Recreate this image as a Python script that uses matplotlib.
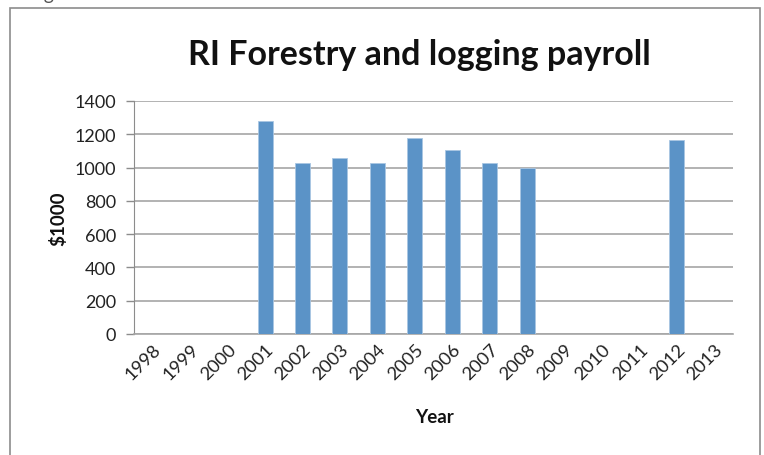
import matplotlib.pyplot as plt
from matplotlib.patches import Rectangle
import numpy as np

years = ['1998', '1999', '2000', '2001', '2002', '2003', '2004', '2005',
         '2006', '2007', '2008', '2009', '2010', '2011', '2012', '2013']
payroll = [0, 0, 0, 1280, 1025, 1060, 1025, 1175,
           1108, 1025, 998, 0, 0, 0, 1168, 0]
yticks = [0, 200, 400, 600, 800, 1000, 1200, 1400]

bar_color = '#5b93c7'
grid_color = '#a6a6a6'
font = ['Lato', 'DejaVu Sans']

fig = plt.figure(figsize=(7.64, 4.56), dpi=100)
W, H = 764, 456

# outer chart frame
fig.patches.append(Rectangle((10 / W, -0.05), 750 / W, 1 - 9 / H + 0.05,
                             transform=fig.transFigure, fill=False,
                             edgecolor='#8c8c8c', linewidth=1.2))
# caption above the frame, mostly cut off at the top edge
fig.text(28 / W, 1 + 6 / H, 'Figure 10', fontsize=14, color='#555555',
         family=font, va='center', ha='left')

ax = fig.add_axes([134 / W, 1 - 335 / H, (733 - 134) / W, (335 - 102) / H])
x = np.arange(len(years))
ax.bar(x, payroll, 0.4, color=bar_color, edgecolor='#a9c6e3', linewidth=0.6, zorder=3)

ax.set_xlim(-0.5, len(years) - 0.5)
ax.set_ylim(0, 1400)
ax.set_yticks(yticks)
ax.set_yticklabels([str(v) for v in yticks], family=font, fontsize=13, color='#222222')
ax.set_xticks(x)
ax.set_xticklabels(years, rotation=45, ha='right', rotation_mode='anchor',
                   family=font, fontsize=13.2, color='#222222')
ax.tick_params(axis='x', length=0, pad=5)
ax.tick_params(axis='y', length=6, color='#8c8c8c', width=1, pad=7)
ax.yaxis.grid(True, color=grid_color, linewidth=1.2, zorder=0)
for s in ['top', 'right']:
    ax.spines[s].set_visible(False)
ax.spines['left'].set_color('#8c8c8c')
ax.spines['bottom'].set_color(grid_color)
ax.spines['bottom'].set_linewidth(1.2)

fig.text(419 / W, 1 - 55 / H, 'RI Forestry and logging payroll', fontsize=24.5,
         fontweight='bold', family=font, ha='center', va='center', color='#111111')
fig.text(58 / W, 1 - 219 / H, '$1000', fontsize=13.5, fontweight='bold', family=font,
         rotation=90, ha='center', va='center', color='#111111')
fig.text(434 / W, 1 - 418 / H, 'Year', fontsize=13.5, fontweight='bold', family=font,
         ha='center', va='center', color='#111111')

fig.savefig('out.png', dpi=100)
